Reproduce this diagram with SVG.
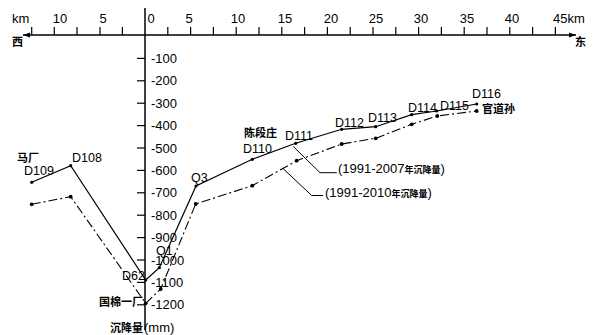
<svg xmlns="http://www.w3.org/2000/svg" width="597" height="335" viewBox="0 0 597 335">
<defs>
<style>
.ax{stroke:#000;stroke-width:1.5;fill:none}
.tk{stroke:#000;stroke-width:1.2}
.n{font-family:"Liberation Sans",Arial,sans-serif;font-size:13px;fill:#000}
.nx{font-family:"Liberation Sans",Arial,sans-serif;font-size:13px;fill:#000;text-anchor:middle}
.lb{font-family:"Liberation Sans",Arial,sans-serif;font-size:12.5px;fill:#000}
.cn{font-family:"Noto Sans CJK SC","Liberation Sans",sans-serif;font-weight:bold;font-size:11px;fill:#000}
.cs{font-family:"Noto Sans CJK SC","Liberation Sans",sans-serif;font-weight:bold;font-size:9px;fill:#000}
.l07{stroke:#000;stroke-width:1.2;fill:none}
.l10{stroke:#000;stroke-width:1.1;fill:none;stroke-dasharray:9 3 2 3}
.ld{stroke:#000;stroke-width:1;fill:none}
</style>
<marker id="ah" markerWidth="8" markerHeight="6" refX="7" refY="3" orient="auto" markerUnits="userSpaceOnUse">
<path d="M0,0.5 L7,3 L0,5.5 Z" fill="#000"/>
</marker>
</defs>

<g id="axes">
<line class="ax" x1="145" y1="35" x2="23" y2="35" marker-end="url(#ah)"/>
<line class="ax" x1="145" y1="35" x2="576" y2="35" marker-end="url(#ah)"/>
<line class="ax" x1="145" y1="8" x2="145" y2="330"/>
<g class="tk">
<line x1="31.7" y1="27" x2="31.7" y2="35"/><line x1="54.3" y1="27" x2="54.3" y2="35"/>
<line x1="77" y1="27" x2="77" y2="35"/><line x1="100" y1="27" x2="100" y2="35"/>
<line x1="122.4" y1="27" x2="122.4" y2="35"/>
<line x1="167.8" y1="27" x2="167.8" y2="35"/><line x1="190.6" y1="27" x2="190.6" y2="35"/>
<line x1="213.4" y1="27" x2="213.4" y2="35"/><line x1="236.2" y1="27" x2="236.2" y2="35"/>
<line x1="259" y1="27" x2="259" y2="35"/><line x1="281.8" y1="27" x2="281.8" y2="35"/>
<line x1="304.6" y1="27" x2="304.6" y2="35"/><line x1="327.4" y1="27" x2="327.4" y2="35"/>
<line x1="350.2" y1="27" x2="350.2" y2="35"/><line x1="373" y1="27" x2="373" y2="35"/>
<line x1="395.8" y1="27" x2="395.8" y2="35"/><line x1="418.6" y1="27" x2="418.6" y2="35"/>
<line x1="441.4" y1="27" x2="441.4" y2="35"/><line x1="464.2" y1="27" x2="464.2" y2="35"/>
<line x1="487" y1="27" x2="487" y2="35"/><line x1="509.8" y1="27" x2="509.8" y2="35"/>
<line x1="532.6" y1="27" x2="532.6" y2="35"/><line x1="555.4" y1="27" x2="555.4" y2="35"/>
</g>
<g class="tk">
<line x1="137" y1="58.4" x2="145" y2="58.4"/><line x1="137" y1="80.8" x2="145" y2="80.8"/>
<line x1="137" y1="103.2" x2="145" y2="103.2"/><line x1="137" y1="125.6" x2="145" y2="125.6"/>
<line x1="137" y1="148" x2="145" y2="148"/><line x1="137" y1="170.4" x2="145" y2="170.4"/>
<line x1="137" y1="192.8" x2="145" y2="192.8"/><line x1="137" y1="215.2" x2="145" y2="215.2"/>
<line x1="137" y1="237.6" x2="145" y2="237.6"/><line x1="137" y1="260" x2="145" y2="260"/>
<line x1="137" y1="282.4" x2="145" y2="282.4"/><line x1="137" y1="304.8" x2="145" y2="304.8"/>
</g>
<text class="n" x="12" y="23">km</text>
<text class="nx" x="60" y="23">10</text>
<text class="nx" x="103" y="23">5</text>
<text class="nx" x="151" y="23">0</text>
<text class="nx" x="189" y="23">5</text>
<text class="nx" x="238" y="23">10</text>
<text class="nx" x="285" y="23">15</text>
<text class="nx" x="331" y="23">20</text>
<text class="nx" x="376" y="23">25</text>
<text class="nx" x="421" y="23">30</text>
<text class="nx" x="467" y="23">35</text>
<text class="nx" x="512" y="23">40</text>
<text class="n" x="553" y="23">45km</text>
<text class="cn" x="12" y="46">西</text>
<text class="cn" x="575" y="46">东</text>
<text class="n" x="151" y="63">-100</text>
<text class="n" x="151" y="85">-200</text>
<text class="n" x="151" y="108">-300</text>
<text class="n" x="151" y="130">-400</text>
<text class="n" x="151" y="153">-500</text>
<text class="n" x="151" y="175">-600</text>
<text class="n" x="151" y="197">-700</text>
<text class="n" x="151" y="220">-800</text>
<text class="n" x="151" y="242">-900</text>
<text class="n" x="151" y="265">-1000</text>
<text class="n" x="151" y="287">-1100</text>
<text class="n" x="151" y="309">-1200</text>
<text x="110" y="332"><tspan class="cn">沉降量</tspan><tspan class="n" font-size="15" dx="1">(mm)</tspan></text>
</g>

<g id="connectors">
<polyline id="line-2007" class="l07" points="31.7,182.3 70.7,165.7 145.7,280 159.3,267.7 196,186 252.3,159.3 295.7,143.3 341.7,129.3 375.7,126.7 411.7,114.7 436.7,111 476.7,104"/>
<polyline id="line-2010" class="l10" points="31.7,204.3 70.7,196.7 145.7,303.3 160.7,289 195.7,204 252.3,185.7 296.7,160.7 341.7,144 375.7,138.3 411.7,124.3 437.3,116 476.7,111"/>
<polyline class="ld" points="293.3,146.5 320,172.7 336.7,172.7"/>
<polyline class="ld" points="283,168.5 311.7,195.5 323,195.5"/>
</g>

<g id="points-2007" fill="#000">
<circle cx="31.7" cy="182.3" r="1.6"/><circle cx="70.7" cy="165.7" r="1.6"/>
<circle cx="145.7" cy="280" r="1.6"/><circle cx="159.3" cy="267.7" r="1.6"/>
<circle cx="196" cy="186" r="1.6"/><circle cx="252.3" cy="159.3" r="1.6"/>
<circle cx="295.7" cy="143.3" r="1.6"/><circle cx="341.7" cy="129.3" r="1.6"/>
<circle cx="375.7" cy="126.7" r="1.6"/><circle cx="411.7" cy="114.7" r="1.6"/>
<circle cx="436.7" cy="111" r="1.6"/><circle cx="476.7" cy="104" r="1.6"/>
</g>
<g id="points-2010" fill="#000">
<circle cx="31.7" cy="204.3" r="1.9"/><circle cx="70.7" cy="196.7" r="1.9"/>
<circle cx="145.7" cy="303.3" r="1.9"/><circle cx="160.7" cy="289" r="1.9"/>
<circle cx="195.7" cy="204" r="1.9"/><circle cx="252.3" cy="185.7" r="1.9"/>
<circle cx="296.7" cy="160.7" r="1.9"/><circle cx="341.7" cy="144" r="1.9"/>
<circle cx="375.7" cy="138.3" r="1.9"/><circle cx="411.7" cy="124.3" r="1.9"/>
<circle cx="437.3" cy="116" r="1.9"/><circle cx="476.7" cy="111" r="1.9"/>
</g>

<g id="labels">
<text class="cn" x="17" y="162">马厂</text>
<text class="lb" x="24" y="175">D109</text>
<text class="lb" x="72" y="162">D108</text>
<text class="lb" x="122" y="280">D62</text>
<text class="lb" x="156" y="255">Q1</text>
<text class="cn" x="99" y="306">国棉一厂</text>
<text class="lb" x="191" y="182">Q3</text>
<text class="cn" x="244" y="137">陈段庄</text>
<text class="lb" x="243" y="153">D110</text>
<text class="lb" x="285" y="140">D111</text>
<text class="lb" x="335" y="127">D112</text>
<text class="lb" x="368" y="122">D113</text>
<text class="lb" x="408" y="112">D114</text>
<text class="lb" x="440" y="110">D115</text>
<text class="lb" x="472" y="98">D116</text>
<text class="cn" x="482" y="113">官道孙</text>
<text x="338" y="173"><tspan class="n" font-size="14">(1991-2007</tspan><tspan class="cs">年沉降量</tspan><tspan class="n" font-size="14">)</tspan></text>
<text x="325" y="197"><tspan class="n" font-size="14">(1991-2010</tspan><tspan class="cs">年沉降量</tspan><tspan class="n" font-size="14">)</tspan></text>
</g>
</svg>
